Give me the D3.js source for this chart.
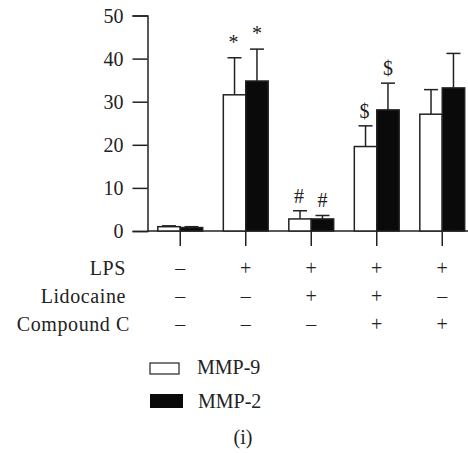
<!DOCTYPE html>
<html>
<head>
<meta charset="utf-8">
<script src="https://cdn.jsdelivr.net/npm/d3@7"></script>
<style>
  body { margin: 0; background: #fff; }
  text { font-family: "Liberation Serif", "Times New Roman", serif; fill: #222; }
</style>
</head>
<body>
<svg id="chart" width="468" height="453"></svg>
<script>
// Data
const groups = [0, 1, 2, 3, 4]
const seriesNames = ["MMP-9", "MMP-2"]
const mmp9Values = [1.0, 31.6, 2.8, 19.6, 27.1]
const mmp9Errors = [0.2, 8.6, 1.9, 4.8, 5.7]
const mmp2Values = [0.8, 34.8, 2.8, 28.1, 33.2]
const mmp2Errors = [0.2, 7.4, 0.8, 6.2, 8.0]
const mmp9Marks = ["", "*", "#", "$", ""]
const mmp2Marks = ["", "*", "#", "$", ""]
const yTicks = [0, 10, 20, 30, 40, 50]
const rowLabels = ["LPS", "Lidocaine", "Compound C"]
const rowSigns = [
    ["–", "+", "+", "+", "+"],
    ["–", "–", "+", "+", "–"],
    ["–", "–", "–", "+", "+"]
]
const panelLabel = "(i)"

const svg = d3.select("#chart")
const fontFamily = "'Liberation Serif', 'Times New Roman', serif"
const seriesColor = { "MMP-9": "#ffffff", "MMP-2": "#0a0a0a" }

// Scales
const x0 = d3.scaleBand()
    .domain(groups)
    .range([147.5, 475])
    .padding(0)

const x1 = d3.scaleBand()
    .domain(seriesNames)
    .range([0, x0.bandwidth()])
    .paddingInner(0)
    .paddingOuter(0.46)

const y = d3.scaleLinear()
    .domain([0, 50])
    .range([231, 15.5])

// Y axis
const yAxis = svg.append("g")
    .attr("transform", `translate(${x0.range()[0]},0)`)
    .call(d3.axisLeft(y).tickValues(yTicks).tickSize(15).tickPadding(9))
yAxis.attr("font-family", fontFamily).attr("font-size", 20)
yAxis.select(".domain").attr("stroke", "#222").attr("stroke-width", 1.5)
yAxis.selectAll(".tick line").attr("stroke", "#222").attr("stroke-width", 1.5)
yAxis.selectAll(".tick text").attr("fill", "#222").attr("dy", "0.34em")

// X axis line and ticks
svg.append("line")
    .attr("x1", x0.range()[0]).attr("x2", 468)
    .attr("y1", y(0)).attr("y2", y(0))
    .attr("stroke", "#222").attr("stroke-width", 1.5)

svg.append("g").selectAll("line")
    .data(groups)
    .join("line")
    .attr("x1", d => x0(d) + x0.bandwidth() / 2)
    .attr("x2", d => x0(d) + x0.bandwidth() / 2)
    .attr("y1", y(0))
    .attr("y2", y(0) + 15)
    .attr("stroke", "#222").attr("stroke-width", 1.5)

// Bars
const rows = []
groups.forEach(g => {
    rows.push({ g, s: "MMP-9", v: mmp9Values[g], e: mmp9Errors[g], m: mmp9Marks[g] })
    rows.push({ g, s: "MMP-2", v: mmp2Values[g], e: mmp2Errors[g], m: mmp2Marks[g] })
})
const cx = d => x0(d.g) + x1(d.s) + x1.bandwidth() / 2

const barG = svg.append("g")
barG.selectAll("line.err")
    .data(rows)
    .join("line")
    .attr("class", "err")
    .attr("x1", cx)
    .attr("x2", cx)
    .attr("y1", d => y(d.v))
    .attr("y2", d => y(d.v + d.e))
    .attr("stroke", "#222").attr("stroke-width", 1.5)

barG.selectAll("line.cap")
    .data(rows)
    .join("line")
    .attr("class", "cap")
    .attr("x1", d => cx(d) - 7)
    .attr("x2", d => cx(d) + 7)
    .attr("y1", d => y(d.v + d.e))
    .attr("y2", d => y(d.v + d.e))
    .attr("stroke", "#222").attr("stroke-width", 1.5)

barG.selectAll("rect")
    .data(rows)
    .join("rect")
    .attr("x", d => x0(d.g) + x1(d.s))
    .attr("y", d => y(d.v))
    .attr("width", x1.bandwidth())
    .attr("height", d => y(0) - y(d.v))
    .attr("fill", d => seriesColor[d.s])
    .attr("stroke", "#222")
    .attr("stroke-width", 1.5)

// Significance marks
barG.selectAll("text.mark")
    .data(rows.filter(d => d.m))
    .join("text")
    .attr("class", "mark")
    .attr("x", d => cx(d) - (d.s === "MMP-9" ? 1 : 0))
    .attr("y", d => y(d.v + d.e) - (d.m === "*" ? 9 : 8))
    .attr("text-anchor", "middle")
    .attr("font-size", 20)
    .text(d => d.m)

// Treatment table
const rowY = [275, 303, 331]
rowLabels.forEach((lab, i) => {
    svg.append("text")
        .attr("x", 126 + (i === 2 ? 4 : 0))
        .attr("y", rowY[i])
        .attr("text-anchor", "end")
        .attr("font-size", 20)
        .attr("letter-spacing", 0.6)
        .text(lab)
    svg.append("g").selectAll("text")
        .data(groups)
        .join("text")
        .attr("x", d => x0(d) + x0.bandwidth() / 2)
        .attr("y", rowY[i])
        .attr("text-anchor", "middle")
        .attr("font-size", 20)
        .text(d => rowSigns[i][d])
})

// Legend
const legend = svg.append("g")
legend.append("rect")
    .attr("x", 150).attr("y", 363).attr("width", 29).attr("height", 11)
    .attr("fill", "#fff").attr("stroke", "#222").attr("stroke-width", 1.2)
legend.append("rect")
    .attr("x", 150).attr("y", 394).attr("width", 33).attr("height", 14)
    .attr("fill", "#0a0a0a")
legend.append("text").attr("x", 197).attr("y", 374).attr("font-size", 20).text(seriesNames[0])
legend.append("text").attr("x", 198).attr("y", 408).attr("font-size", 20).text(seriesNames[1])

svg.append("text")
    .attr("x", 243).attr("y", 444)
    .attr("text-anchor", "middle")
    .attr("font-size", 20)
    .text(panelLabel)
</script>
</body>
</html>
